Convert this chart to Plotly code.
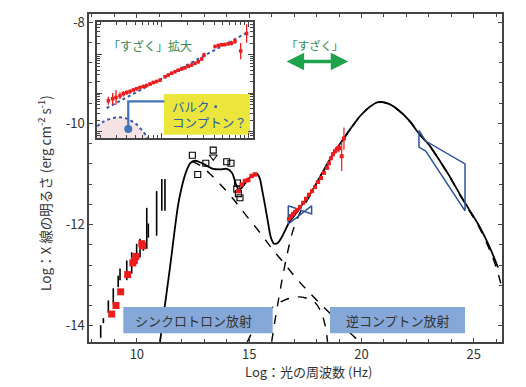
import numpy as np
import plotly.graph_objects as go

FONT = "Noto Sans CJK JP, Noto Sans, sans-serif"
TXT = "#333333"
AX = "#444444"

# ---------------- main panel data: log10(nu / Hz), log10(nu F_nu / erg cm-2 s-1) -------------
total_x = [11.03, 11.48, 11.83, 12.01, 12.19, 12.37, 12.59, 12.81, 13.08, 13.39, 13.70, 14.01,
           14.24, 14.41, 14.55, 14.73, 14.95, 15.17, 15.35, 15.48, 15.57, 15.71, 15.84, 15.97,
           16.11, 16.28, 16.51, 16.73, 17.00, 17.26, 17.71, 18.15, 18.60, 19.04, 19.49, 19.93,
           20.38, 20.74, 21.14, 21.63, 22.16, 22.52, 23.05, 23.50, 23.94, 24.39, 24.83, 25.28,
           25.72, 26.08]
total_y = [-14.32, -12.83, -11.63, -11.24, -10.96, -10.79, -10.74, -10.77, -10.83, -10.90, -10.91,
           -10.90, -10.98, -11.20, -11.32, -11.24, -11.10, -11.02, -11.00, -11.10, -11.30, -11.63,
           -11.96, -12.26, -12.38, -12.36, -12.20, -12.00, -11.83, -11.67, -11.40, -11.06, -10.71,
           -10.41, -10.12, -9.86, -9.67, -9.58, -9.60, -9.73, -9.96, -10.18, -10.45, -10.75,
           -11.06, -11.41, -11.73, -12.06, -12.46, -12.85]

sync_x = [12.46, 12.81, 13.26, 13.70, 14.28, 14.81, 15.48, 16.02, 16.60, 17.13, 17.71, 18.24,
          18.82, 19.36, 19.93]
sync_y = [-10.75, -10.83, -11.00, -11.20, -11.49, -11.79, -12.16, -12.48, -12.79, -13.08, -13.36,
          -13.60, -13.85, -14.09, -14.32]

ec_x = [16.00, 16.19, 16.42, 16.68, 16.95, 17.26, 17.71, 18.15, 18.60, 19.04, 19.49, 19.93, 20.38,
        20.74, 21.14, 21.63, 22.16, 22.52, 23.05, 23.50, 23.94, 24.39, 24.83, 25.28, 25.72, 26.00,
        26.26]
ec_y = [-14.32, -13.79, -13.20, -12.61, -12.12, -11.77, -11.43, -11.07, -10.72, -10.42, -10.13,
        -9.87, -9.67, -9.59, -9.61, -9.74, -9.97, -10.19, -10.46, -10.76, -11.07, -11.42, -11.75,
        -12.09, -12.52, -12.85, -13.26]

bulk_x = [14.90, 15.26, 15.62, 16.06, 16.55, 17.13, 17.58, 17.93, 18.20, 18.38, 18.49]
bulk_y = [-14.34, -14.03, -13.83, -13.63, -13.50, -13.43, -13.46, -13.54, -13.73, -13.99, -14.32]

radio_bar_x = [8.39, 8.51, 8.73, 8.95, 9.17, 9.25, 9.55, 9.77, 9.99, 10.14, 10.29, 10.44, 10.51,
               10.88, 11.11, 11.25]
radio_bar_lo = [-14.24, -13.95, -13.75, -13.56, -13.24, -13.10, -13.10, -12.97, -12.65, -12.65,
                -12.52, -12.48, -12.26, -12.22, -11.73, -11.73]
radio_bar_hi = [-13.99, -13.85, -13.50, -13.26, -13.01, -12.87, -12.71, -12.55, -12.38, -12.28,
                -12.32, -11.67, -11.98, -11.34, -11.10, -11.10]

radio_pt_x = [8.88, 9.07, 9.28, 9.59, 9.82, 9.89, 9.96, 10.22, 10.26]
radio_pt_y = [-13.77, -13.60, -13.33, -12.99, -12.76, -12.71, -12.63, -12.38, -12.42]

hist_x = [12.47, 12.71, 13.07, 13.40, 14.00, 14.19, 14.45, 14.48, 14.52, 14.59]
hist_y = [-10.63, -11.01, -10.79, -10.53, -10.76, -10.79, -11.30, -11.18, -11.39, -11.47]
ul_x = [13.40]
ul_y = [-10.66]

uv_x = [14.52, 14.67, 14.81, 14.96, 15.11, 15.26]
uv_y = [-11.34, -11.21, -11.14, -11.12, -11.04, -11.01]

xray_x = [16.77, 16.86, 16.95, 17.04, 17.13, 17.26, 17.40, 17.53, 17.66, 17.80, 17.93, 18.07,
          18.20, 18.33, 18.47, 18.55, 18.64, 18.73, 18.82, 18.91, 19.00, 19.12, 19.22]
xray_y = [-11.89, -11.83, -11.79, -11.75, -11.71, -11.65, -11.57, -11.49, -11.41, -11.34, -11.26,
          -11.16, -11.08, -10.98, -10.88, -10.79, -10.69, -10.61, -10.55, -10.51, -10.49, -10.65,
          -10.30]
xray_err = [0.04, 0.03, 0.03, 0.03, 0.03, 0.03, 0.03, 0.03, 0.03, 0.03, 0.03, 0.03, 0.03, 0.03,
            0.03, 0.04, 0.04, 0.05, 0.05, 0.06, 0.08, 0.29, 0.22]

bowtie1_x = [16.74, 17.78, 17.78, 16.74, 16.74]
bowtie1_y = [-11.63, -11.79, -11.63, -11.99, -11.63]
bowtie2_x = [22.56, 22.86, 24.61, 24.61, 22.86, 22.56, 22.56]
bowtie2_y = [-10.14, -10.35, -10.80, -11.73, -10.55, -10.47, -10.14]

x_tick_vals = [10, 15, 20, 25]
x_tick_text = ["10", "15", "20", "25"]
y_tick_vals = [-14, -12, -10, -8]
y_tick_text = ["-14", "-12", "-10", "-8"]

# ---------------- inset data (log units of the zoomed Suzaku band) ----------------
inset_u = [-0.611, -0.562, -0.523, -0.478, -0.440, -0.401, -0.363, -0.325, -0.287, -0.249, -0.210,
           -0.172, -0.134, -0.096, -0.058, -0.019, 0.038, 0.076, 0.114, 0.152, 0.190, 0.229,
           0.267, 0.305, 0.343, 0.381, 0.420, 0.458, 0.485, 0.611, 0.649, 0.687, 0.725, 0.763,
           0.801, 0.840, 0.905, 0.973]
inset_v = [0.098, 0.132, 0.155, 0.184, 0.218, 0.241, 0.259, 0.287, 0.305, 0.328, 0.345, 0.362,
           0.391, 0.414, 0.431, 0.454, 0.517, 0.546, 0.575, 0.603, 0.626, 0.650, 0.672, 0.695,
           0.718, 0.747, 0.776, 0.822, 0.891, 1.040, 1.057, 1.069, 1.075, 1.086, 1.098, 1.132,
           0.960, 1.264]
inset_err = [0.07, 0.10, 0.13, 0.06, 0.05, 0.04, 0.04, 0.03, 0.03, 0.03, 0.03, 0.03, 0.03, 0.03,
             0.03, 0.03, 0.03, 0.03, 0.03, 0.03, 0.03, 0.03, 0.03, 0.03, 0.03, 0.03, 0.03, 0.03,
             0.04, 0.03, 0.03, 0.03, 0.03, 0.03, 0.04, 0.05, 0.14, 0.16]
pl_u = [-0.63, 0.99]
pl_v = [-0.03, 1.29]
arc_u = [-0.738, -0.672, -0.592, -0.501, -0.409, -0.340, -0.283, -0.226, -0.180, -0.151]
arc_v = [-0.345, -0.267, -0.216, -0.190, -0.207, -0.259, -0.319, -0.414, -0.500, -0.560]
conn_u = [-0.383, -0.383, 0.03]
conn_v = [-0.391, 0.086, 0.086]

IX = [-0.741, 1.046]
IY = [-0.552, 1.457]

fig = go.Figure()

# radio variability bars
bx, by = [], []
for x, lo, hi in zip(radio_bar_x, radio_bar_lo, radio_bar_hi):
    bx += [x, x, None]
    by += [lo, hi, None]
fig.add_trace(go.Scatter(x=bx, y=by, mode="lines", line=dict(color="black", width=1.6),
                         hoverinfo="skip"))

# model components
fig.add_trace(go.Scatter(x=sync_x, y=sync_y, mode="lines", line=dict(color="black", width=1.4, dash="dash", shape="spline")))
fig.add_trace(go.Scatter(x=ec_x, y=ec_y, mode="lines", line=dict(color="black", width=1.4, dash="dash", shape="spline")))
fig.add_trace(go.Scatter(x=bulk_x, y=bulk_y, mode="lines", line=dict(color="black", width=1.4, dash="dash", shape="spline")))
fig.add_trace(go.Scatter(x=total_x, y=total_y, mode="lines", line=dict(color="black", width=1.8, shape="spline", smoothing=0.8)))

# bowties
fig.add_trace(go.Scatter(x=bowtie1_x, y=bowtie1_y, mode="lines", line=dict(color="#2f52a2", width=1.5)))
fig.add_trace(go.Scatter(x=bowtie2_x, y=bowtie2_y, mode="lines", line=dict(color="#2f52a2", width=1.5)))

# data
fig.add_trace(go.Scatter(x=hist_x, y=hist_y, mode="markers",
                         marker=dict(symbol="square-open", size=6, color="black", line=dict(width=1.1))))
fig.add_trace(go.Scatter(x=ul_x, y=ul_y, mode="markers",
                         marker=dict(symbol="triangle-down-open", size=7, color="black", line=dict(width=1.1))))
fig.add_trace(go.Scatter(x=radio_pt_x, y=radio_pt_y, mode="markers",
                         marker=dict(symbol="square", size=7, color="#ee1c1c")))
fig.add_trace(go.Scatter(x=uv_x, y=uv_y, mode="markers",
                         marker=dict(symbol="square", size=4.5, color="#ee1c1c")))
fig.add_trace(go.Scatter(x=xray_x, y=xray_y, mode="markers",
                         error_y=dict(type="data", array=xray_err, color="#ee1c1c", thickness=1.2, width=0),
                         marker=dict(symbol="square", size=4, color="#ee1c1c")))

# ---------------- inset ----------------
fig.add_trace(go.Scatter(x=arc_u, y=[IY[0]] * len(arc_u), mode="lines", line=dict(width=0),
                         xaxis="x2", yaxis="y2", hoverinfo="skip"))
fig.add_trace(go.Scatter(x=arc_u, y=arc_v, mode="lines", line=dict(width=0, shape="spline"), fill="tonexty",
                         fillcolor="#f5e3e3", xaxis="x2", yaxis="y2", hoverinfo="skip"))
fig.add_trace(go.Scatter(x=arc_u, y=arc_v, mode="lines",
                         line=dict(color="#3457ad", width=2, dash="dot", shape="spline"),
                         xaxis="x2", yaxis="y2"))
fig.add_trace(go.Scatter(x=pl_u, y=pl_v, mode="lines",
                         line=dict(color="#3457ad", width=2, dash="dot"), xaxis="x2", yaxis="y2"))
fig.add_trace(go.Scatter(x=inset_u, y=inset_v, mode="markers",
                         error_y=dict(type="data", array=inset_err, color="#ee1c1c", thickness=1.3, width=0),
                         marker=dict(symbol="square", size=3.5, color="#ee1c1c"), xaxis="x2", yaxis="y2"))
fig.add_trace(go.Scatter(x=conn_u, y=conn_v, mode="lines", line=dict(color="#3f74b8", width=2.2),
                         xaxis="x2", yaxis="y2"))
fig.add_trace(go.Scatter(x=conn_u[:1], y=conn_v[:1], mode="markers",
                         marker=dict(size=8, color="#3f74b8"), xaxis="x2", yaxis="y2"))

# inset log-style ticks
ix_major = [n for n in range(-1, 2) if IX[0] < n < IX[1]]
ix_minor = [n + np.log10(k) for n in range(-1, 2) for k in range(2, 10) if IX[0] < n + np.log10(k) < IX[1]]
ya, yd = 0.229, 0.667
iy_major = [ya + yd * n for n in range(-2, 3) if IY[0] < ya + yd * n < IY[1]]
iy_minor = [ya + yd * (n + np.log10(k)) for n in range(-2, 3) for k in range(2, 10)
            if IY[0] < ya + yd * (n + np.log10(k)) < IY[1]]

# page body has an 8 px margin: size the figure so the plot area lands where the reference has it
OFF = 8
L, R, T, B = 89 - OFF, 24, 12 - OFF, 45
W, H = 526 - OFF, 387 - OFF
pw, ph = W - L - R, H - T - B
PLOT_LEFT, PLOT_BOTTOM = 89, 342   # window pixels


def px(xp):
    return (xp - PLOT_LEFT) / pw


def py(yp):
    return (PLOT_BOTTOM - yp) / ph


def ann(xw, yw, text, size, color, xanchor="center", **kw):
    return dict(xref="paper", yref="paper", x=px(xw), y=py(yw), text=text, showarrow=False,
                xanchor=xanchor, yanchor="middle", font=dict(family=FONT, size=size, color=color), **kw)


shapes = [
    dict(type="rect", xref="paper", yref="paper", x0=px(123.3), x1=px(272.7), y0=py(333.3), y1=py(306.7),
         fillcolor="#85a8d8", line=dict(width=0), layer="above"),
    dict(type="rect", xref="paper", yref="paper", x0=px(330), x1=px(465), y0=py(333.3), y1=py(306.7),
         fillcolor="#85a8d8", line=dict(width=0), layer="above"),
    dict(type="rect", xref="x2", yref="y2", x0=0.026, x1=1.011, y0=-0.491, y1=0.216,
         fillcolor="#ebe53c", line=dict(width=0), layer="below"),
]

annotations = [
    ann(193, 320, "シンクロトロン放射", 13, TXT),
    ann(398, 320, "逆コンプトン放射", 13, TXT),
    ann(170, 113.5, "バルク・<br>コンプトン？", 12.5, "#2a5ea8", xanchor="left", align="left"),
    ann(150, 43.3, "「すざく」拡大", 12, "#2f8a55"),
    ann(315, 42.7, "「すざく」", 11.5, "#2f8a55"),
    dict(xref="x", yref="y", axref="x", ayref="y", x=19.41, y=-8.78, ax=16.60, ay=-8.78, text="",
         showarrow=True, arrowhead=2, startarrowhead=2, arrowside="end+start", arrowwidth=3.5,
         arrowsize=1, startarrowsize=1, arrowcolor="#1ea24b"),
    ann(45, 192, "Log：X 線の明るさ (erg cm<sup>-2</sup> s<sup>-1</sup>)", 13.5, TXT, textangle=-90),
    ann(308, 372, "Log：光の周波数 (Hz)", 13, TXT),
]

fig.update_layout(
    width=W, height=H, margin=dict(l=L, r=R, t=T, b=B),
    paper_bgcolor="white", plot_bgcolor="white", showlegend=False,
    font=dict(family=FONT, size=13, color=TXT),
    shapes=shapes, annotations=annotations,
    xaxis=dict(range=[7.869, 26.256], showgrid=False, zeroline=False, showline=True, linecolor=AX,
               linewidth=1.5, mirror="allticks", ticks="inside", ticklen=4, tickwidth=1, tickcolor=AX,
               tickmode="array", tickvals=x_tick_vals, ticktext=x_tick_text,
               tickfont=dict(family=FONT, size=13, color=TXT),
               minor=dict(tickmode="array", tickvals=list(range(8, 27)), ticks="inside", ticklen=3,
                          tickcolor=AX)),
    yaxis=dict(range=[-14.322, -7.839], showgrid=False, zeroline=False, showline=True, linecolor=AX,
               linewidth=1.5, mirror="allticks", ticks="inside", ticklen=4, tickwidth=1, tickcolor=AX,
               tickmode="array", tickvals=y_tick_vals, ticktext=y_tick_text,
               tickfont=dict(family=FONT, size=13, color=TXT),
               minor=dict(tickmode="array", tickvals=[round(-14 + 0.4 * i, 2) for i in range(16)],
                          ticks="inside", ticklen=3, tickcolor=AX)),
    xaxis2=dict(domain=[px(97), px(253)], anchor="y2", range=IX, showgrid=False, zeroline=False,
                showline=True, linecolor=AX, linewidth=1.5, mirror="allticks", ticks="inside",
                ticklen=5, tickcolor=AX, tickmode="array", tickvals=ix_major, showticklabels=False,
                minor=dict(tickmode="array", tickvals=ix_minor, ticks="inside", ticklen=3, tickcolor=AX)),
    yaxis2=dict(domain=[py(137), py(20.5)], anchor="x2", range=IY, showgrid=False, zeroline=False,
                showline=True, linecolor=AX, linewidth=1.5, mirror="allticks", ticks="inside",
                ticklen=5, tickcolor=AX, tickmode="array", tickvals=iy_major, showticklabels=False,
                minor=dict(tickmode="array", tickvals=iy_minor, ticks="inside", ticklen=3, tickcolor=AX)),
)

fig.write_html("out.html")
